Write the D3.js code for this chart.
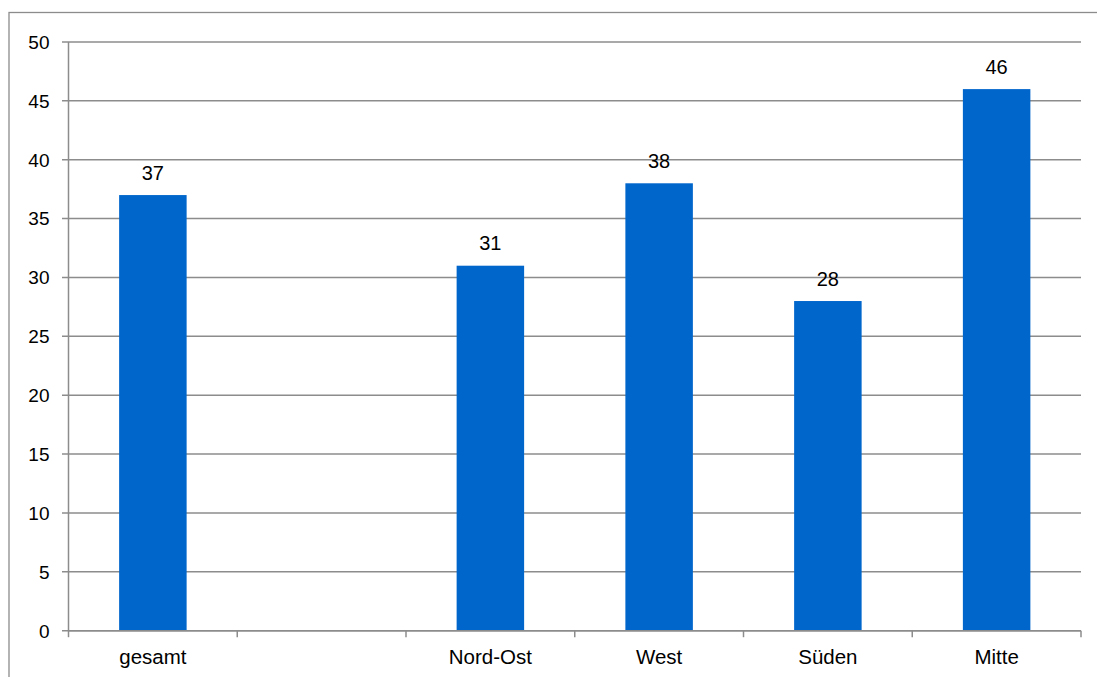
<!DOCTYPE html>
<html>
<head>
<meta charset="utf-8">
<script src="https://cdn.jsdelivr.net/npm/d3@7"></script>
<style>
  html, body { margin: 0; padding: 0; background: #fff; }
  svg { display: block; }
  text { font-family: "Liberation Sans", Arial, sans-serif; fill: #000; }
</style>
</head>
<body>
<script>
const categories = ["gesamt", "", "Nord-Ost", "West", "Süden", "Mitte"];
const values = [37, null, 31, 38, 28, 46];
const yTicks = [0, 5, 10, 15, 20, 25, 30, 35, 40, 45, 50];

const W = 1097, H = 677;
const plot = { left: 68.5, right: 1081, top: 42, bottom: 630.7 };
const gridColor = "#8c8c8c";
const barColor = "#0066cc";

const svg = d3.select("body").append("svg").attr("width", W).attr("height", H);

// outer border
svg.append("rect")
  .attr("x", 9).attr("y", 12.5)
  .attr("width", 1100).attr("height", 700)
  .attr("fill", "none").attr("stroke", gridColor).attr("stroke-width", 1.3);

const x = d3.scaleBand().domain(d3.range(categories.length))
  .range([plot.left, plot.right]).paddingInner(0).paddingOuter(0);
const y = d3.scaleLinear().domain([0, 50]).range([plot.bottom, plot.top]);

// gridlines (including tick stubs)
svg.append("g").selectAll("line").data(yTicks).join("line")
  .attr("x1", plot.left - 6.5).attr("x2", plot.right)
  .attr("y1", d => y(d)).attr("y2", d => y(d))
  .attr("stroke", gridColor).attr("stroke-width", 1.5);

// y axis line
svg.append("line")
  .attr("x1", plot.left).attr("x2", plot.left)
  .attr("y1", plot.top).attr("y2", plot.bottom)
  .attr("stroke", gridColor).attr("stroke-width", 1.5);

// y tick labels
svg.append("g").selectAll("text").data(yTicks).join("text")
  .attr("x", 49.5).attr("y", d => y(d) + 6.8)
  .attr("text-anchor", "end").attr("font-size", 19)
  .text(d => d);

// x tick marks at band boundaries
const bounds = d3.range(categories.length + 1).map(i => plot.left + i * x.bandwidth());
svg.append("g").selectAll("line").data(bounds).join("line")
  .attr("x1", d => d).attr("x2", d => d)
  .attr("y1", plot.bottom).attr("y2", plot.bottom + 6.5)
  .attr("stroke", gridColor).attr("stroke-width", 1.5);

// bars
const barW = x.bandwidth() * 0.4;
const data = categories.map((c, i) => ({ i, c, v: values[i] })).filter(d => d.v != null);
svg.append("g").selectAll("rect").data(data).join("rect")
  .attr("x", d => x(d.i) + x.bandwidth() / 2 - barW / 2)
  .attr("y", d => y(d.v))
  .attr("width", barW)
  .attr("height", d => y(0) - y(d.v))
  .attr("fill", barColor);

// x axis line over bars
svg.append("line")
  .attr("x1", plot.left).attr("x2", plot.right)
  .attr("y1", plot.bottom).attr("y2", plot.bottom)
  .attr("stroke", gridColor).attr("stroke-width", 1.5);

// data labels
svg.append("g").selectAll("text").data(data).join("text")
  .attr("x", d => x(d.i) + x.bandwidth() / 2)
  .attr("y", d => y(d.v) - 15.5)
  .attr("text-anchor", "middle").attr("font-size", 20)
  .text(d => d.v);

// category labels
svg.append("g").selectAll("text").data(categories.map((c, i) => ({ c, i }))).join("text")
  .attr("x", d => x(d.i) + x.bandwidth() / 2)
  .attr("y", 664)
  .attr("text-anchor", "middle").attr("font-size", 20.5)
  .text(d => d.c);
</script>
</body>
</html>
